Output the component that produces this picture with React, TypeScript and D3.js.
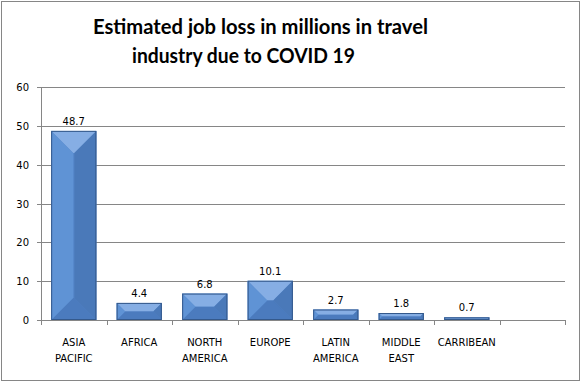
import React from "react";
import * as d3 from "d3";

const categories = ["ASIA PACIFIC", "AFRICA", "NORTH AMERICA", "EUROPE", "LATIN AMERICA", "MIDDLE EAST", "CARRIBEAN", ""];
const values: (number | null)[] = [48.7, 4.4, 6.8, 10.1, 2.7, 1.8, 0.7, null];
const yTicks = [0, 10, 20, 30, 40, 50, 60];
const titleLines = ["Estimated job loss in millions in travel", "industry due to COVID 19"];

const W = 581, H = 382;
const plot = { left: 41, right: 565, top: 87, bottom: 320 };

export default function App() {
  const x = d3.scaleBand<number>().domain(d3.range(categories.length)).range([plot.left, plot.right]).paddingInner(0.31).paddingOuter(0.155);
  const xb = d3.scaleBand<number>().domain(d3.range(categories.length)).range([plot.left, plot.right]);
  const y = d3.scaleLinear().domain([0, 60]).range([plot.bottom, plot.top]);
  const font = "Tahoma, 'DejaVu Sans', Verdana, sans-serif";
  const splitLabel = (s: string) => {
    const parts = s.split(" ");
    return parts;
  };
  return (
    <svg width={W} height={H} style={{ position: "absolute", left: 0, top: 0 }}>
      <rect x={0} y={0} width={W} height={H} fill="#fff" />
      <rect x={1.5} y={1.5} width={W - 3} height={H - 3} fill="none" stroke="#868686" strokeWidth={1} />
      <text x={93} y={34} fontFamily="Lato, 'Open Sans', sans-serif" fontWeight="bold" fontSize={20} textLength={335} lengthAdjust="spacingAndGlyphs" fill="#000">{titleLines[0]}</text>
      <text x={132} y={63} fontFamily="Lato, 'Open Sans', sans-serif" fontWeight="bold" fontSize={20} textLength={223} lengthAdjust="spacingAndGlyphs" fill="#000">{titleLines[1]}</text>
      {yTicks.map((t) => (
        <g key={t}>
          {t > 0 && <line x1={plot.left} x2={plot.right} y1={Math.round(y(t)) + 0.5} y2={Math.round(y(t)) + 0.5} stroke="#868686" />}
          <line x1={plot.left - 4} x2={plot.left} y1={Math.round(y(t)) + 0.5} y2={Math.round(y(t)) + 0.5} stroke="#868686" />
          <text x={29} y={y(t) + 4} textAnchor="end" fontFamily={font} fontSize={10} fill="#000">{t}</text>
        </g>
      ))}
      <line x1={plot.left + 0.5} x2={plot.left + 0.5} y1={plot.top} y2={plot.bottom} stroke="#868686" />
      <line x1={plot.left} x2={plot.right} y1={plot.bottom + 0.5} y2={plot.bottom + 0.5} stroke="#868686" />
      {d3.range(categories.length + 1).map((i) => {
        const xx = Math.round(plot.left + i * xb.bandwidth()) + 0.5;
        return <line key={i} x1={xx} x2={xx} y1={plot.bottom} y2={plot.bottom + 5} stroke="#868686" />;
      })}
      {values.map((v, i) => {
        if (v == null) return null;
        const x0 = x(i)!, x1 = x0 + x.bandwidth();
        const y0 = y(v), y1 = y(0);
        const w = x1 - x0, h = y1 - y0;
        const b = Math.min(w / 2, h / 2, 22);
        const p = (pts: number[][]) => pts.map((q) => q.join(",")).join(" ");
        return (
          <g key={i}>
            <rect x={x0} y={y0} width={w} height={h} fill="#5687C9" />
            <polygon points={p([[x0, y0], [x1, y0], [x1 - b, y0 + b], [x0 + b, y0 + b]])} fill="#86AEE4" />
            <polygon points={p([[x0, y1], [x1, y1], [x1 - b, y1 - b], [x0 + b, y1 - b]])} fill="#4B7BBE" />
            <polygon points={p([[x0, y0], [x0 + b, y0 + b], [x0 + b, y1 - b], [x0, y1]])} fill="#5F93D5" />
            <polygon points={p([[x1, y0], [x1 - b, y0 + b], [x1 - b, y1 - b], [x1, y1]])} fill="#4A79B9" />
            <rect x={x0 + 0.5} y={y0 + 0.5} width={w - 1} height={h - 1} fill="none" stroke="#34598C" strokeWidth={1} />
            <text x={(x0 + x1) / 2} y={y0 - 6} textAnchor="middle" fontFamily={font} fontSize={10} fill="#000">{v.toFixed(1)}</text>
          </g>
        );
      })}
      {categories.map((c, i) => {
        const cx = xb(i)! + xb.bandwidth() / 2;
        return splitLabel(c).map((part, j) => (
          <text key={i + "-" + j} x={cx} y={346 + j * 16} textAnchor="middle" fontFamily={font} fontSize={10} fill="#000">{part}</text>
        ));
      })}
    </svg>
  );
}
